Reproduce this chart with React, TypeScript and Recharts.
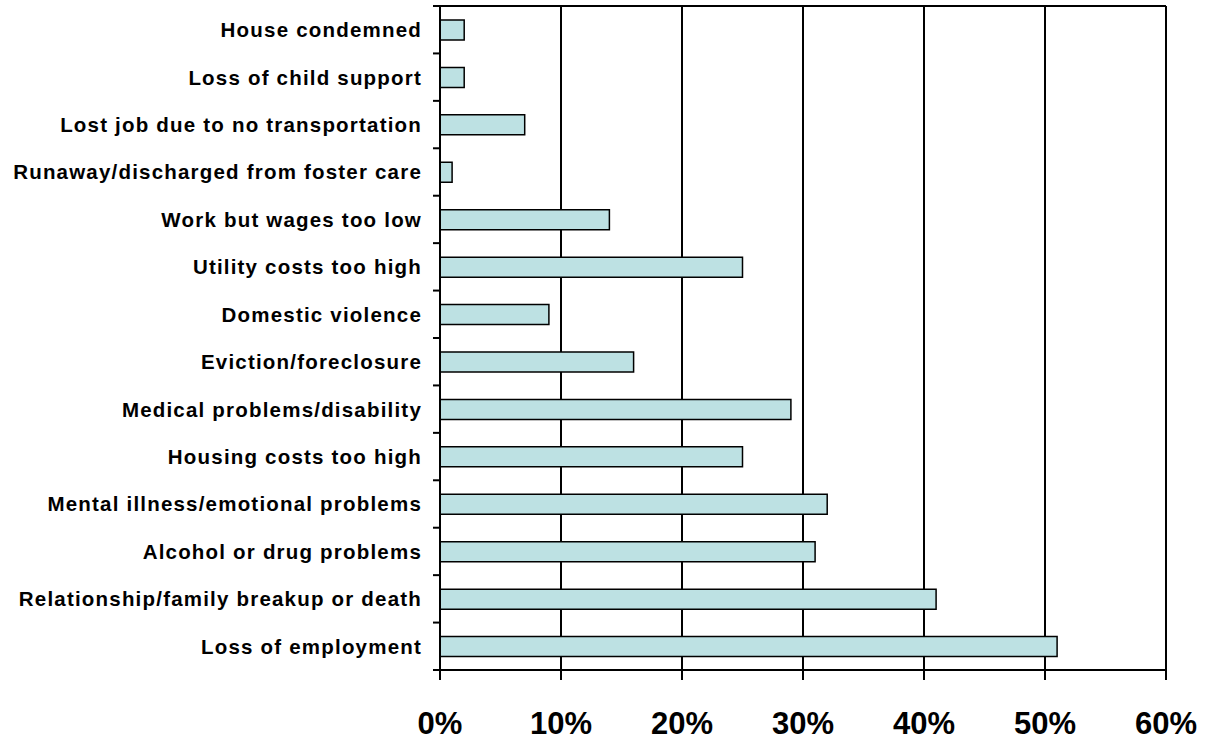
import React from 'react';
import { BarChart, Bar, XAxis, YAxis, CartesianGrid } from 'recharts';

const categories = [
    'House condemned',
    'Loss of child support',
    'Lost job due to no transportation',
    'Runaway/discharged from foster care',
    'Work but wages too low',
    'Utility costs too high',
    'Domestic violence',
    'Eviction/foreclosure',
    'Medical problems/disability',
    'Housing costs too high',
    'Mental illness/emotional problems',
    'Alcohol or drug problems',
    'Relationship/family breakup or death',
    'Loss of employment',
];

const percents = [2, 2, 7, 1, 14, 25, 9, 16, 29, 25, 32, 31, 41, 51];

const xTicks = [0, 10, 20, 30, 40, 50, 60];

const data = categories.map((name, i) => ({ name, value: percents[i] }));

const FONT = '"Liberation Sans", Arial, sans-serif';
const CHART_W = 1211;
const CHART_H = 743;
const MARGIN = { top: 6, right: 45, left: 0, bottom: 0 };
const Y_TICK_SIZE = 7;
const Y_TICK_MARGIN = 11;

const CategoryTick = (props: any) => {
    const { x, y, payload, index } = props;
    const half = payload.offset || 23.7;
    const x1 = x + Y_TICK_MARGIN;
    const x2 = x1 + Y_TICK_SIZE;
    return (
        <g>
            <line x1={x1} x2={x2} y1={y - half} y2={y - half} stroke="#000" strokeWidth={2} />
            {index === 0 && (
                // top border of the plot area
                <line
                    x1={x2}
                    x2={CHART_W - MARGIN.right}
                    y1={y - half}
                    y2={y - half}
                    stroke="#000"
                    strokeWidth={2}
                />
            )}
            {index === categories.length - 1 && (
                <line x1={x1} x2={x2} y1={y + half} y2={y + half} stroke="#000" strokeWidth={2} />
            )}
            <text
                x={x}
                y={y}
                dy="0.36em"
                textAnchor="end"
                fill="#000"
                fontFamily={FONT}
                fontWeight="bold"
                fontSize={20.5}
                letterSpacing={1.2}
            >
                {payload.value}
            </text>
        </g>
    );
};

export default function App() {
    return (
        <div style={{ position: 'absolute', left: 0, top: 0, background: '#fff' }}>
            <BarChart
                width={CHART_W}
                height={CHART_H}
                data={data}
                layout="vertical"
                margin={MARGIN}
                barCategoryGap={0}
            >
                <CartesianGrid horizontal={false} stroke="#000" strokeWidth={2} />
                <XAxis
                    type="number"
                    domain={[0, 60]}
                    ticks={xTicks}
                    interval={0}
                    tickFormatter={(v) => `${v}%`}
                    height={73}
                    axisLine={{ stroke: '#000', strokeWidth: 2 }}
                    tickLine={{ stroke: '#000', strokeWidth: 2 }}
                    tickSize={10}
                    tickMargin={32}
                    tick={{ fill: '#000', fontFamily: FONT, fontWeight: 'bold', fontSize: 31 }}
                />
                <YAxis
                    type="category"
                    dataKey="name"
                    width={440}
                    interval={0}
                    axisLine={{ stroke: '#000', strokeWidth: 2 }}
                    tickLine={false}
                    tickSize={Y_TICK_SIZE}
                    tickMargin={Y_TICK_MARGIN}
                    tick={<CategoryTick />}
                />
                <Bar
                    dataKey="value"
                    barSize={20}
                    fill="#bde1e3"
                    stroke="#000"
                    strokeWidth={1.5}
                    isAnimationActive={false}
                />
            </BarChart>
        </div>
    );
}
